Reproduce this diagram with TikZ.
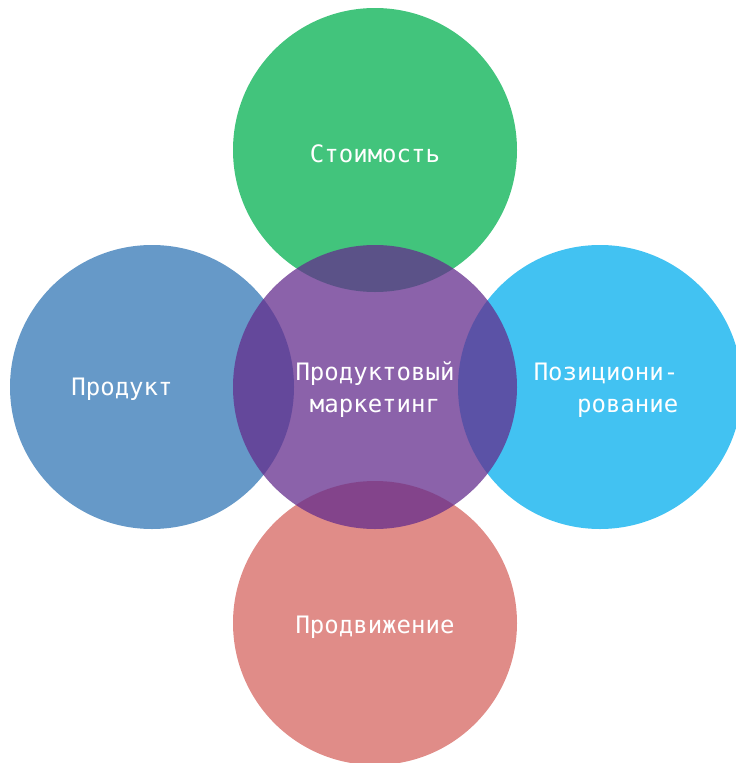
\documentclass[tikz,border=0pt]{standalone}
\usepackage{fontspec}
\setmainfont{DejaVu Sans Mono}
\definecolor{cgreen}{HTML}{42C47C}
\definecolor{cblue}{HTML}{6699C8}
\definecolor{clight}{HTML}{42C2F2}
\definecolor{cred}{HTML}{E08C88}
\definecolor{cpurple}{HTML}{642D8D}
\begin{document}
\begin{tikzpicture}[x=1pt,y=-1pt,
  disc/.style={circle,minimum size=284pt,inner sep=0pt,draw=none},
  lbl/.style={text=white,font=\fontsize{24pt}{32pt}\selectfont,inner sep=0pt}]
\useasboundingbox (0,0) rectangle (736,763);
\begin{scope}
\clip (0,0) rectangle (736,763);
\node[disc,fill=cgreen] (top) at (375,150) {};
\node[disc,fill=cblue] (left) at (152,387) {};
\node[disc,fill=clight] (right) at (600,387) {};
\node[disc,fill=cred] (bottom) at (375,623) {};
\node[disc,fill=cpurple,fill opacity=0.75] (center) at (375,387) {};
\end{scope}
\node[lbl] (ttop) at (375,154) {Стоимость};
\node[lbl] (tleft) at (122,389) {Продукт};
\node[lbl,align=center] (tcenter) at (375,390) {Продуктовый\\маркетинг};
\node[lbl,align=right] (tright) at (606,390) {Позициони-\\рование};
\node[lbl] (tbottom) at (375,627) {Продвижение};
\end{tikzpicture}
\end{document}
